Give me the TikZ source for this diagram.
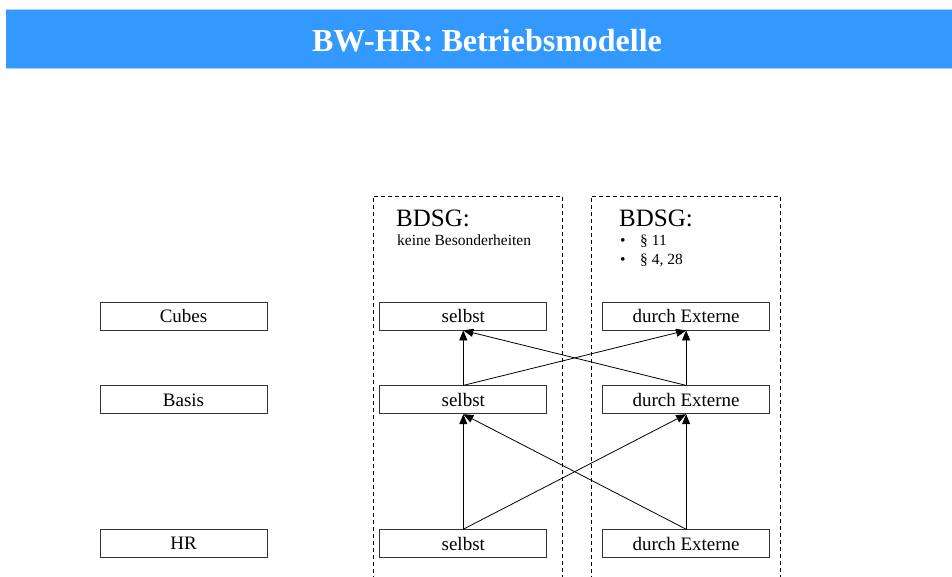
\documentclass[tikz,border=0pt]{standalone}
\usepackage{fontspec}
\setmainfont{Liberation Serif}
\usetikzlibrary{positioning,arrows.meta}
\definecolor{titleblue}{HTML}{3399FF}
\definecolor{titleline}{HTML}{A9D2FF}
\tikzstyle{rowbox} = [
    rectangle,                 % Shape
    draw=black!80,             % Border color
    line width=0.8pt,
    minimum width=167pt,       % Width
    minimum height=28pt,       % Height
    inner sep=0pt,
    text centered,             % Centered text
    font=\fontsize{19}{22}\selectfont
]
\tikzstyle{arrow} = [line width=0.8pt, -{Triangle[length=10pt,width=8pt]}]
\tikzstyle{frame} = [draw=black, line width=0.7pt, dash pattern=on 4pt off 3pt]
\tikzstyle{bdsghead} = [anchor=base west, inner sep=0pt, font=\fontsize{25}{30}\selectfont]
\tikzstyle{bdsgtext} = [anchor=base west, inner sep=0pt, font=\fontsize{15.5}{19}\selectfont]

\begin{document}
\begin{tikzpicture}[x=1pt,y=-1pt]
		\useasboundingbox (0,0) rectangle (952,577);

		% Title bar
		\fill[titleblue] (6,10) rectangle (952,68);
		\draw[titleline] (6,9.5) -- (952,9.5);
		\draw[titleline] (6,68.5) -- (952,68.5);
		\node[text=white, font=\fontsize{32}{38}\selectfont\bfseries] (title) at (487,41) {BW-HR: Betriebsmodelle};

		% BDSG frames
		\draw[frame] (373,580) |- (562,196) -- (562,580);
		\draw[frame] (591,580) |- (780,196) -- (780,580);
		\node[bdsghead] (bdsg_self) at (396,226) {BDSG:};
		\node[bdsgtext] (bdsg_self_txt) at (397,246) {keine Besonderheiten};
		\node[bdsghead] (bdsg_ext) at (619,226) {BDSG:};
		\node[bdsgtext] (bdsg_ext_a) at (620,246) {\makebox[20pt][l]{\textbullet}\S~11};
		\node[bdsgtext] (bdsg_ext_b) at (620,265) {\makebox[20pt][l]{\textbullet}\S~4, 28};

		% Layer labels
		\node[rowbox] (cubes) at (183.5,316) {Cubes};
		\node[rowbox, below=55pt of cubes] (basis) {Basis};
		\node[rowbox, below=115pt of basis] (hr) {HR};

		% Operated in-house
		\node[rowbox, right=112pt of cubes] (cubes_self) {selbst};
		\node[rowbox, right=112pt of basis] (basis_self) {selbst};
		\node[rowbox, right=112pt of hr] (hr_self) {selbst};

		% Operated by external provider
		\node[rowbox, right=55pt of cubes_self] (cubes_ext) {durch Externe};
		\node[rowbox, right=55pt of basis_self] (basis_ext) {durch Externe};
		\node[rowbox, right=55pt of hr_self] (hr_ext) {durch Externe};

		% Arrows
		\draw[arrow] (basis_self.north) -- (cubes_self.south);
		\draw[arrow] (basis_ext.north) -- (cubes_self.south);
		\draw[arrow] (basis_self.north) -- (cubes_ext.south);
		\draw[arrow] (basis_ext.north) -- (cubes_ext.south);

		\draw[arrow] (hr_self.north) -- (basis_self.south);
		\draw[arrow] (hr_ext.north) -- (basis_self.south);
		\draw[arrow] (hr_self.north) -- (basis_ext.south);
		\draw[arrow] (hr_ext.north) -- (basis_ext.south);
	\end{tikzpicture}
\end{document}
